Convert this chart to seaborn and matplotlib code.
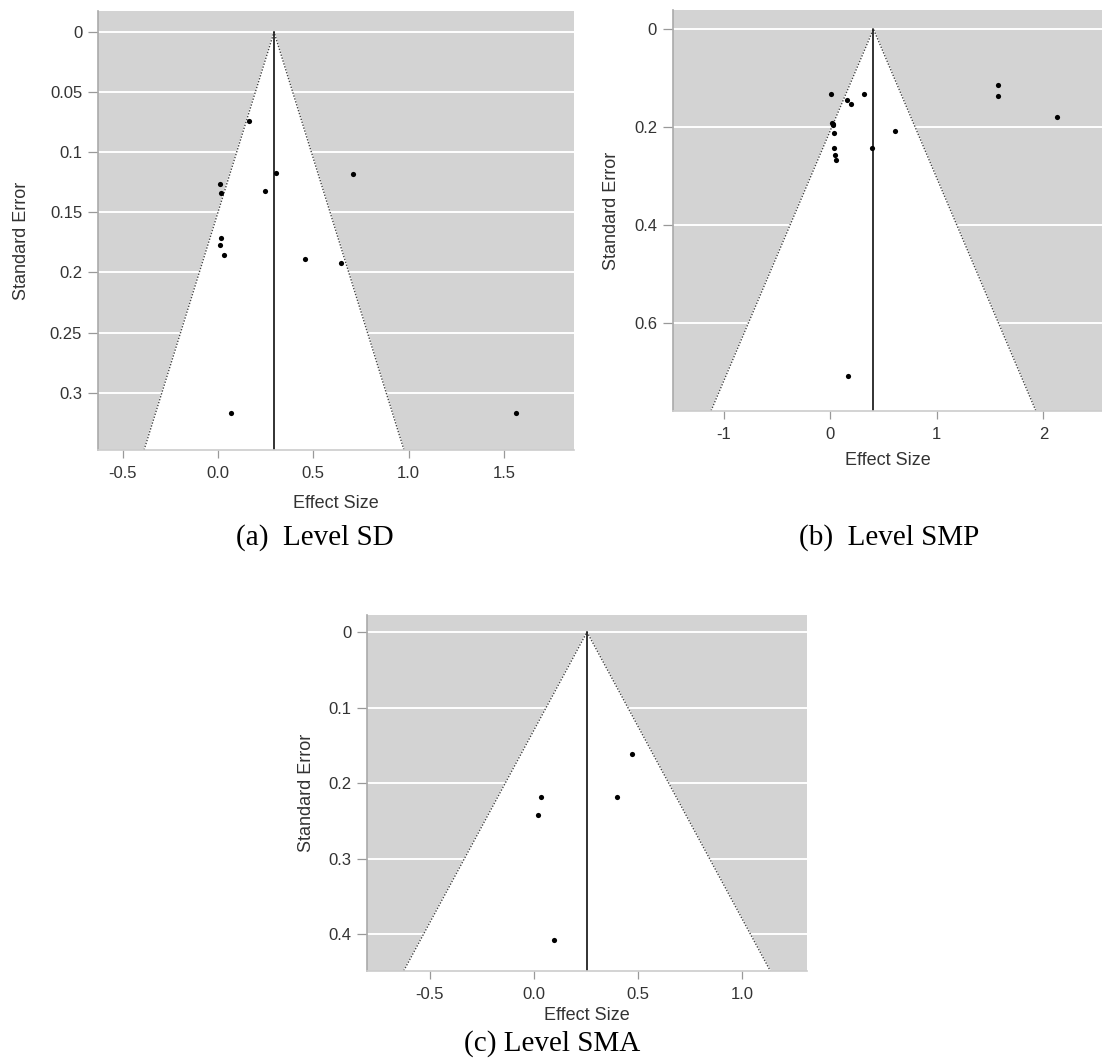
import numpy as np
import pandas as pd
import matplotlib
matplotlib.use("Agg")
import matplotlib.pyplot as plt
import seaborn as sns

# -----------------------------
# Data
# -----------------------------

# (a) Level SD
sd_effect = [0.165, 0.305, 0.708, 0.011, 0.017, 0.245, 0.017, 0.010, 0.030, 0.457, 0.644, 0.066, 1.564]
sd_se = [0.0743, 0.117, 0.1178, 0.1267, 0.1336, 0.1325, 0.1713, 0.1769, 0.1858, 0.1891, 0.1924, 0.3166, 0.3166]
sd_center = 0.294
sd_xticks = [-0.5, 0.0, 0.5, 1.0, 1.5]
sd_xlabels = ["-0.5", "0.0", "0.5", "1.0", "1.5"]
sd_yticks = [0, 0.05, 0.1, 0.15, 0.2, 0.25, 0.3]
sd_ylabels = ["0", "0.05", "0.1", "0.15", "0.2", "0.25", "0.3"]

# (b) Level SMP
smp_effect = [0.006, 0.312, 0.153, 0.198, 0.016, 0.029, 0.026, 0.032, 0.610, 0.032, 0.393,
              0.045, 0.055, 1.571, 1.578, 2.133, 0.166]
smp_se = [0.1318, 0.1318, 0.1448, 0.1522, 0.1916, 0.1937, 0.1964, 0.2127, 0.208, 0.2419, 0.2419,
          0.2569, 0.2664, 0.1135, 0.1373, 0.1794, 0.7074]
smp_center = 0.405
smp_xticks = [-1, 0, 1, 2]
smp_xlabels = ["-1", "0", "1", "2"]
smp_yticks = [0, 0.2, 0.4, 0.6]
smp_ylabels = ["0", "0.2", "0.4", "0.6"]

# (c) Level SMA
sma_effect = [0.469, 0.034, 0.400, 0.018, 0.095]
sma_se = [0.162, 0.218, 0.218, 0.242, 0.408]
sma_center = 0.254
sma_xticks = [-0.5, 0.0, 0.5, 1.0]
sma_xlabels = ["-0.5", "0.0", "0.5", "1.0"]
sma_yticks = [0, 0.1, 0.2, 0.3, 0.4]
sma_ylabels = ["0", "0.1", "0.2", "0.3", "0.4"]

captions = ["(a)  Level SD", "(b)  Level SMP", "(c) Level SMA"]

sns.set_style("white")
plt.rcParams["font.family"] = ["Liberation Sans", "DejaVu Sans"]

fig = plt.figure(figsize=(11.02, 10.6), dpi=100)

panels = [
    dict(rect=[0.0891, 0.5755, 0.4316, 0.4142], x=sd_effect, y=sd_se, c=sd_center,
         xlim=(-0.628, 1.866), ylim=(0.3477, -0.0175),
         xt=sd_xticks, xl=sd_xlabels, yt=sd_yticks, yl=sd_ylabels, ylx=-0.143, yly=0.476),
    dict(rect=[0.6107, 0.6125, 0.3893, 0.378], x=smp_effect, y=smp_se, c=smp_center,
         xlim=(-1.477, 2.551), ylim=(0.778, -0.0387),
         xt=smp_xticks, xl=smp_xlabels, yt=smp_yticks, yl=smp_ylabels, ylx=-0.1235, yly=0.5),
    dict(rect=[0.3333, 0.0842, 0.3987, 0.3356], x=sma_effect, y=sma_se, c=sma_center,
         xlim=(-0.80, 1.308), ylim=(0.4486, -0.0225),
         xt=sma_xticks, xl=sma_xlabels, yt=sma_yticks, yl=sma_ylabels, ylx=-0.119, yly=0.5),
]

for p in panels:
    ax = fig.add_axes(p["rect"])
    ax.set_facecolor("#d3d3d3")
    ax.set_xlim(*p["xlim"])
    ax.set_ylim(*p["ylim"])

    # white grid lines on the grey background
    for t in p["yt"]:
        ax.axhline(t, color="white", lw=1.4, zorder=0.5)

    # funnel (pseudo 95% region)
    se_max = p["ylim"][0]
    half = 1.96 * se_max
    tri_x = [p["c"] - half, p["c"], p["c"] + half]
    tri_y = [se_max, 0, se_max]
    ax.fill(tri_x, tri_y, color="white", zorder=1)
    ax.plot(tri_x, tri_y, color="#444444", ls=(0, (1, 1.2)), lw=1.0, zorder=2)
    ax.plot([p["c"], p["c"]], [0, se_max], color="#222222", lw=1.3, zorder=2)

    df = pd.DataFrame({"effect": p["x"], "se": p["y"]})
    sns.scatterplot(data=df, x="effect", y="se", ax=ax, color="black", s=14,
                    linewidth=0, zorder=3)

    ax.set_xticks(p["xt"])
    ax.set_xticklabels(p["xl"])
    ax.set_yticks(p["yt"])
    ax.set_yticklabels(p["yl"])
    ax.tick_params(axis="y", length=7.5, width=0.9, color="#999999", pad=4,
                   labelsize=12, labelcolor="#333333", left=True)
    ax.tick_params(axis="x", length=5.5, width=0.9, color="#999999", pad=6,
                   labelsize=12, labelcolor="#333333", bottom=True)

    for s in ["top", "right"]:
        ax.spines[s].set_visible(False)
    ax.spines["left"].set_color("#aaaaaa")
    ax.spines["bottom"].set_color("#cccccc")
    ax.spines["left"].set_linewidth(1.2)
    ax.spines["bottom"].set_linewidth(1.2)

    ax.set_xlabel("Effect Size", fontsize=13, color="#333333", va="top")
    ax.set_ylabel("Standard Error", fontsize=13, color="#333333", va="bottom")
    ax.xaxis.set_label_coords(0.5, -0.103)
    ax.yaxis.set_label_coords(p["ylx"], p["yly"])

cap_pos = [(0.2858, 0.4925), (0.8067, 0.4925), (0.5009, 0.016)]
for txt, (cx, cy) in zip(captions, cap_pos):
    fig.text(cx, cy, txt, ha="center", va="center", fontsize=21,
             family=["Liberation Serif", "DejaVu Serif"], color="black")

plt.savefig("out.png", dpi=100)
